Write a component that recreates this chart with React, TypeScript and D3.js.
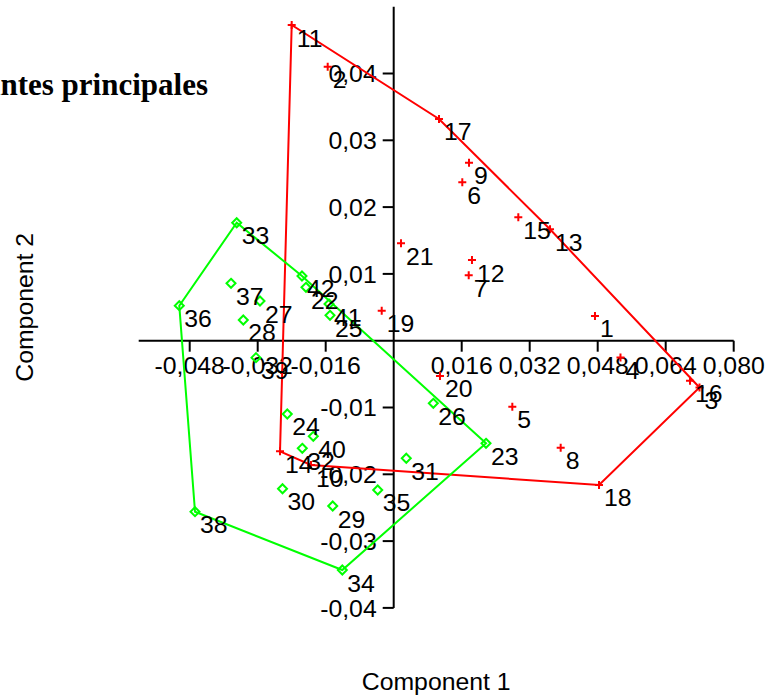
import React from "react";
import * as d3 from "d3";

// Group 1 (red crosses): observations 1..21
const redLabels = ["1","2","3","4","5","6","7","8","9","10","11","12","13","14","15","16","17","18","19","20","21"];
const redX = [0.04736,-0.01553,0.07195,0.05336,0.02791,0.01614,0.01765,0.03929,0.01772,-0.01946,-0.024,0.01842,0.03678,-0.02675,0.02932,0.06972,0.01066,0.04831,-0.00282,0.01089,0.00172];
const redY = [0.0037,0.04102,-0.00701,-0.00251,-0.00988,0.02371,0.00979,-0.01602,0.02665,-0.01861,0.04726,0.01208,0.01668,-0.01656,0.01847,-0.00599,0.03319,-0.0216,0.00449,-0.00528,0.01458];

// Group 2 (green diamonds): observations 22..42
const greenLabels = ["22","23","24","25","26","27","28","29","30","31","32","33","34","35","36","37","38","39","40","41","42"];
const greenX = [-0.02064,0.02172,-0.02504,-0.01499,0.00932,-0.03146,-0.03539,-0.01435,-0.02616,0.00296,-0.02151,-0.03694,-0.01209,-0.00376,-0.05045,-0.03828,-0.04675,-0.0324,-0.01892,-0.01522,-0.02158];
const greenY = [0.00799,-0.01536,-0.01097,0.0038,-0.00937,0.00594,0.0031,-0.02475,-0.02216,-0.0176,-0.01611,0.01766,-0.03433,-0.02235,0.00524,0.00859,-0.0256,-0.00254,-0.01431,0.00549,0.00969];

const xTicks = [-0.048,-0.032,-0.016,0.016,0.032,0.048,0.064,0.08];
const xTickLabels = ["-0,048","-0,032","-0,016","0,016","0,032","0,048","0,064","0,080"];
const yTicks = [0.04,0.03,0.02,0.01,-0.01,-0.02,-0.03,-0.04];
const yTickLabels = ["0,04","0,03","0,02","0,01","-0,01","-0,02","-0,03","-0,04"];

const xDomain = [-0.06, 0.08];
const yDomain = [-0.04, 0.05];

const W = 770, H = 698;
const FONT = "'Liberation Sans', Arial, Helvetica, sans-serif";
const FS = 24.8;
const RED = "#ff0000";
const GREEN = "#00ff00";

export default function App() {
  const x = d3.scaleLinear().domain(xDomain).range([138.7, 733.7]);
  const y = d3.scaleLinear().domain(yDomain).range([607.9, 6.7]);
  const x0 = x(0), y0 = y(0);

  const redPts: [number, number][] = redX.map((v, i) => [x(v), y(redY[i])]);
  const greenPts: [number, number][] = greenX.map((v, i) => [x(v), y(greenY[i])]);
  const redHull = d3.polygonHull(redPts) || [];
  const greenHull = d3.polygonHull(greenPts) || [];
  const line = d3.line().curve(d3.curveLinearClosed);

  return (
    <svg width={W} height={H} style={{ position: "absolute", left: 0, top: 0, background: "#fff" }}>
      <rect x={0} y={0} width={W} height={H} fill="#fff" />
      <text x={208} y={95} textAnchor="end" fontFamily="'Liberation Serif', 'Times New Roman', serif" fontWeight="bold" fontSize={31}>
        Composantes principales
      </text>

      {/* axes */}
      <line x1={x(xDomain[0])} x2={x(xDomain[1])} y1={y0} y2={y0} stroke="#000" strokeWidth={2} />
      <line x1={x0} x2={x0} y1={y(yDomain[0])} y2={y(yDomain[1])} stroke="#000" strokeWidth={2} />
      {xTicks.map((t, i) => (
        <g key={"xt" + i}>
          <line x1={x(t)} x2={x(t)} y1={y0} y2={y0 + 11} stroke="#000" strokeWidth={2} />
          <text x={x(t)} y={y0 + 33} textAnchor="middle" fontFamily={FONT} fontSize={FS}>{xTickLabels[i]}</text>
        </g>
      ))}
      {yTicks.map((t, i) => (
        <g key={"yt" + i}>
          <line x1={x0 - 11} x2={x0} y1={y(t)} y2={y(t)} stroke="#000" strokeWidth={2} />
          <text x={x0 - 17} y={y(t)} dy="0.35em" textAnchor="end" fontFamily={FONT} fontSize={FS}>{yTickLabels[i]}</text>
        </g>
      ))}

      {/* hulls */}
      <path d={line(redHull as [number, number][]) || ""} fill="none" stroke={RED} strokeWidth={2} />
      <path d={line(greenHull as [number, number][]) || ""} fill="none" stroke={GREEN} strokeWidth={2} />

      {/* markers */}
      {redPts.map(([px, py], i) => (
        <path key={"rm" + i} d={`M${px - 4},${py}H${px + 4}M${px},${py - 4}V${py + 4}`} stroke={RED} strokeWidth={2} fill="none" />
      ))}
      {greenPts.map(([px, py], i) => (
        <path key={"gm" + i} d={`M${px},${py - 4.5}L${px + 4.5},${py}L${px},${py + 4.5}L${px - 4.5},${py}Z`} stroke={GREEN} strokeWidth={2} fill="none" />
      ))}

      {/* labels */}
      {redPts.map(([px, py], i) => (
        <text key={"rl" + i} x={px + 5} y={py + 21.5} fontFamily={FONT} fontSize={FS}>{redLabels[i]}</text>
      ))}
      {greenPts.map(([px, py], i) => (
        <text key={"gl" + i} x={px + 5} y={py + 21.5} fontFamily={FONT} fontSize={FS}>{greenLabels[i]}</text>
      ))}

      <text x={(x(xDomain[0]) + x(xDomain[1])) / 2} y={690} textAnchor="middle" fontFamily={FONT} fontSize={FS}>Component 1</text>
      <text transform={`translate(33,${(y(yDomain[0]) + y(yDomain[1])) / 2}) rotate(-90)`} textAnchor="middle" fontFamily={FONT} fontSize={FS}>Component 2</text>
    </svg>
  );
}
